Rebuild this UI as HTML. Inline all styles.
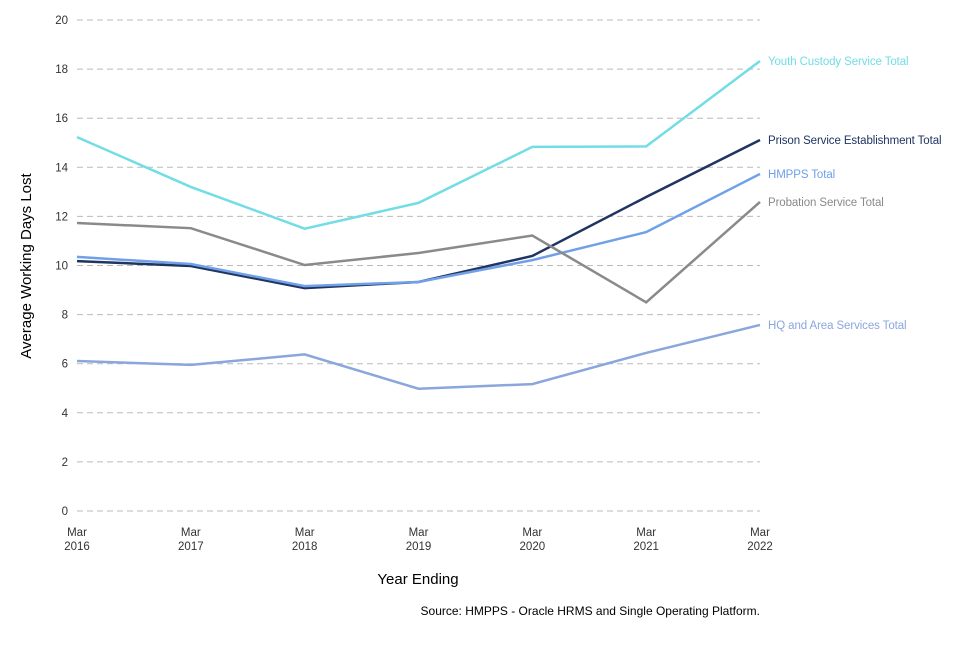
<!DOCTYPE html>
<html><head><meta charset="utf-8"><style>
body{margin:0;background:#fff;font-family:"Liberation Sans",sans-serif;}
svg text{font-family:"Liberation Sans",sans-serif;}
</style></head><body>
<svg id="chart" width="960" height="640" xmlns="http://www.w3.org/2000/svg">
<g id="grid"></g><g id="lines"></g><g id="labels"></g>
<text transform="translate(31,266) rotate(-90)" text-anchor="middle" font-size="15" fill="#000">Average Working Days Lost</text>
<text x="418" y="584" text-anchor="middle" font-size="15" fill="#000">Year Ending</text>
<text x="760" y="615" text-anchor="end" font-size="12" fill="#000">Source: HMPPS - Oracle HRMS and Single Operating Platform.</text>
</svg>
<script>
const years = ["2016","2017","2018","2019","2020","2021","2022"];
const yTicks = [0,2,4,6,8,10,12,14,16,18,20];
const seriesNames = ["Youth Custody Service Total","Prison Service Establishment Total","HMPPS Total","Probation Service Total","HQ and Area Services Total"];
const youth = [15.23,13.2,11.5,12.55,14.83,14.85,18.33];
const prison = [10.18,9.98,9.08,9.33,10.39,12.79,15.11];
const hmpps = [10.35,10.06,9.16,9.33,10.22,11.36,13.73];
const probation = [11.73,11.52,10.02,10.51,11.22,8.5,12.59];
const hq = [6.11,5.95,6.38,4.98,5.17,6.44,7.58];
const colors = ["#72dde5","#1f3461","#6fa0e8","#8a8a8a","#8ba6dc"];
const seriesData = [youth,prison,hmpps,probation,hq];
const NS="http://www.w3.org/2000/svg";
const x = i => 77 + i*(760-77)/(years.length-1);
const y = v => 511 - v*(511-20)/20;
const grid=document.getElementById('grid'), lines=document.getElementById('lines'), labels=document.getElementById('labels');
function mk(tag,attrs,parent){const e=document.createElementNS(NS,tag);for(const k in attrs)e.setAttribute(k,attrs[k]);parent.appendChild(e);return e;}
yTicks.forEach(t=>{
  const l=mk('line',{x1:77,x2:760,y1:y(t),y2:y(t),stroke:'#bbb','stroke-dasharray':'6,4','stroke-width':1},grid);
  
  
  const tx=mk('text',{x:68,y:y(t)+4,'text-anchor':'end','font-size':11.5,fill:'#333'},grid);
  tx.textContent=t;
  
  
});
years.forEach((yr,i)=>{
  const tx=mk('text',{x:x(i),y:536,'text-anchor':'middle','font-size':11.5,fill:'#333'},grid);
  mk('tspan',{x:x(i),dy:0},tx).textContent='Mar';
  mk('tspan',{x:x(i),dy:14},tx).textContent=yr;
  
  
});
seriesData.forEach((d,s)=>{
  const p=mk('polyline',{points:d.map((v,i)=>x(i)+','+y(v)).join(' '),fill:'none',stroke:colors[s],'stroke-width':2.5},lines);
  
  
  const t=mk('text',{x:768,y:y(d[d.length-1])+4,'font-size':11.5,'letter-spacing':'-0.1',fill:colors[s]},labels);
  t.textContent=seriesNames[s];
  
  
});
</script>
</body></html>
